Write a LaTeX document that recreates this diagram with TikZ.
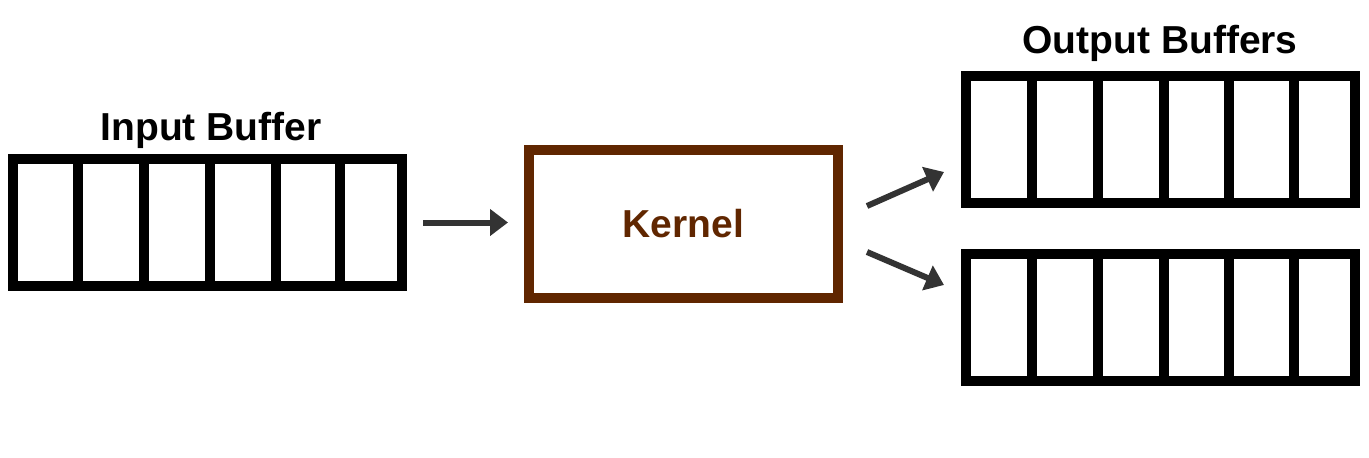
\documentclass[tikz,border=0pt]{standalone}
\usepackage{fontspec}
\setmainfont{Liberation Sans}
\usetikzlibrary{arrows.meta,positioning}
\definecolor{kernelbrown}{RGB}{96,38,0}
\definecolor{arrowgray}{RGB}{51,51,51}

\begin{document}
\begin{tikzpicture}[x=1pt,y=-1pt,
    buf/.style={draw, line width=10pt, minimum width=389pt, minimum height=127pt, inner sep=0pt},
    cell/.style={line width=10pt},
    title/.style={font=\fontsize{39}{47}\selectfont\bfseries, anchor=base},
    arr/.style={draw=arrowgray, line width=6pt, -{Triangle[length=18pt,width=26pt]}}]

        \useasboundingbox (0,0) rectangle (1369,458);

        % buffers
        \node[buf] (inbuf)  at (207.5,222.5) {};
        \node[buf] (outbuf1) at (1160.5,139.5) {};
        \node[buf] (outbuf2) at (1160.5,317.5) {};

        \foreach \x in {78,144,210,276,340}
          \draw[cell] (\x,159) -- (\x,286);
        \foreach \x in {1032,1098,1164,1229,1294} {
          \draw[cell] (\x,76) -- (\x,203);
          \draw[cell] (\x,254) -- (\x,381);
        }

        \node[title] (intitle)  at (211,140) {Input Buffer};
        \node[title] (outtitle) at (1160,53) {Output Buffers};

        % kernel
        \node[draw=kernelbrown, line width=10pt, minimum width=309pt, minimum height=148pt,
              text=kernelbrown, font=\fontsize{39}{47}\selectfont\bfseries] (kernel) at (683.5,224) {Kernel};

        % arrows
        \coordinate (k1) at (867,206);
        \coordinate (t1) at (944,172);
        \coordinate (k2) at (867,252);
        \coordinate (t2) at (944,285);

        \draw[arr, shorten <=16pt, shorten >=16pt] (inbuf.east) -- (inbuf.east -| kernel.west);
        \draw[arr] (k1) -- (t1);
        \draw[arr] (k2) -- (t2);

      \end{tikzpicture}
\end{document}
